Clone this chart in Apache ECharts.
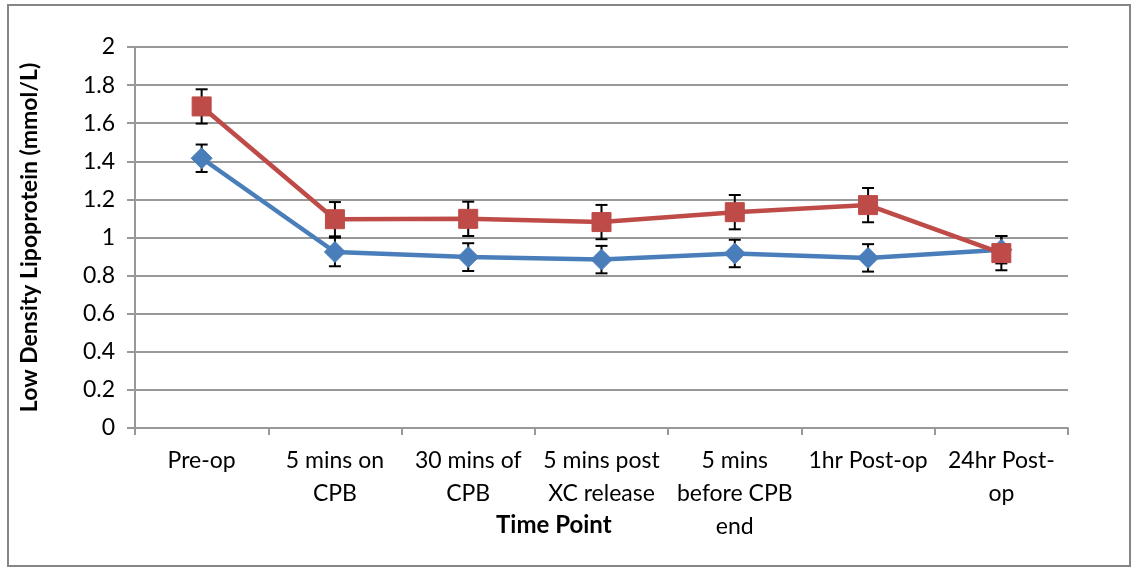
<!DOCTYPE html>
<html>
<head>
<meta charset="utf-8">
<script src="https://cdn.jsdelivr.net/npm/echarts@6/dist/echarts.min.js"></script>
<style>
  html, body { margin: 0; padding: 0; background: #fff; }
  #chart { width: 1133px; height: 569px; }
</style>
</head>
<body>
<div id="chart"></div>
<script>
// Sampling time points (wrapped the way they appear under the axis)
const timePoints = [
  'Pre-op',
  '5 mins on\nCPB',
  '30 mins of\nCPB',
  '5 mins post\nXC release',
  '5 mins\nbefore CPB\nend',
  '1hr Post-op',
  '24hr Post-\nop'
];

// LDL (mmol/L), mean and error-bar half-width per time point
const blueMean = [1.416, 0.924, 0.897, 0.884, 0.916, 0.893, 0.936];
const blueErr  = [0.072, 0.075, 0.073, 0.072, 0.072, 0.072, 0.072];
const redMean  = [1.688, 1.096, 1.098, 1.081, 1.133, 1.170, 0.918];
const redErr   = [0.090, 0.090, 0.090, 0.090, 0.090, 0.090, 0.090];

const yTicks = { min: 0, max: 2, step: 0.2 };

const FONT = 'Lato';
const GRID_COLOR = '#989898';

function errorData(mean, err) {
  return mean.map((m, i) => [i, m - err[i], m + err[i]]);
}

function renderErrorBar(params, api) {
  const i = api.value(0);
  const lo = api.coord([i, api.value(1)]);
  const hi = api.coord([i, api.value(2)]);
  const cap = 6;
  const style = { stroke: '#000', lineWidth: 2, fill: null };
  return {
    type: 'group',
    children: [
      { type: 'line', shape: { x1: hi[0], y1: hi[1], x2: lo[0], y2: lo[1] }, style },
      { type: 'line', shape: { x1: hi[0] - cap, y1: hi[1], x2: hi[0] + cap, y2: hi[1] }, style },
      { type: 'line', shape: { x1: lo[0] - cap, y1: lo[1], x2: lo[0] + cap, y2: lo[1] }, style }
    ]
  };
}

const chart = echarts.init(document.getElementById('chart'), null, { renderer: 'canvas' });

chart.setOption({
  animation: false,
  backgroundColor: '#fff',
  grid: { left: 135, right: 65, top: 47, bottom: 141 },
  graphic: [
    {
      type: 'rect',
      shape: { x: 8, y: 5, width: 1122, height: 561 },
      style: { fill: null, stroke: '#868686', lineWidth: 2 },
      silent: true,
      z: -1
    },
    {
      type: 'text',
      left: 496,
      top: 513,
      style: {
        text: 'Time Point',
        font: 'bold 24px ' + FONT,
        fill: '#000'
      }
    }
  ],
  xAxis: {
    type: 'category',
    data: timePoints,
    boundaryGap: true,
    axisLine: { lineStyle: { color: GRID_COLOR, width: 2 } },
    axisTick: { show: true, length: 7, lineStyle: { color: GRID_COLOR, width: 2 } },
    axisLabel: {
      interval: 0,
      margin: 16,
      color: '#000',
      fontFamily: FONT,
      fontSize: 23,
      lineHeight: 33,
      align: 'center'
    },
    splitLine: { show: false }
  },
  yAxis: {
    type: 'value',
    min: yTicks.min,
    max: yTicks.max,
    interval: yTicks.step,
    name: 'Low Density Lipoprotein (mmol/L)',
    nameLocation: 'middle',
    nameGap: 94,
    nameRotate: 90,
    nameTextStyle: { color: '#000', fontFamily: FONT, fontSize: 23, fontWeight: 'bold' },
    axisLine: { show: true, lineStyle: { color: GRID_COLOR, width: 2 } },
    axisTick: { show: true, length: 8, lineStyle: { color: GRID_COLOR, width: 2 } },
    axisLabel: { color: '#000', fontFamily: FONT, fontSize: 23, margin: 20 },
    splitLine: { show: true, lineStyle: { color: GRID_COLOR, width: 2 } }
  },
  series: [
    {
      type: 'custom',
      name: 'blue-err',
      renderItem: renderErrorBar,
      data: errorData(blueMean, blueErr),
      encode: { x: 0, y: [1, 2] },
      z: 1
    },
    {
      type: 'custom',
      name: 'red-err',
      renderItem: renderErrorBar,
      data: errorData(redMean, redErr),
      encode: { x: 0, y: [1, 2] },
      z: 1
    },
    {
      type: 'line',
      data: blueMean,
      symbol: 'diamond',
      symbolSize: 21,
      lineStyle: { color: '#4A7EBB', width: 4.5 },
      itemStyle: { color: '#4A7EBB', borderColor: '#4A7EBB' },
      z: 3
    },
    {
      type: 'line',
      data: redMean,
      symbol: 'rect',
      symbolSize: 19,
      lineStyle: { color: '#BE4B48', width: 4.5 },
      itemStyle: { color: '#BE4B48', borderColor: '#BE4B48' },
      z: 4
    }
  ]
});
</script>
</body>
</html>
